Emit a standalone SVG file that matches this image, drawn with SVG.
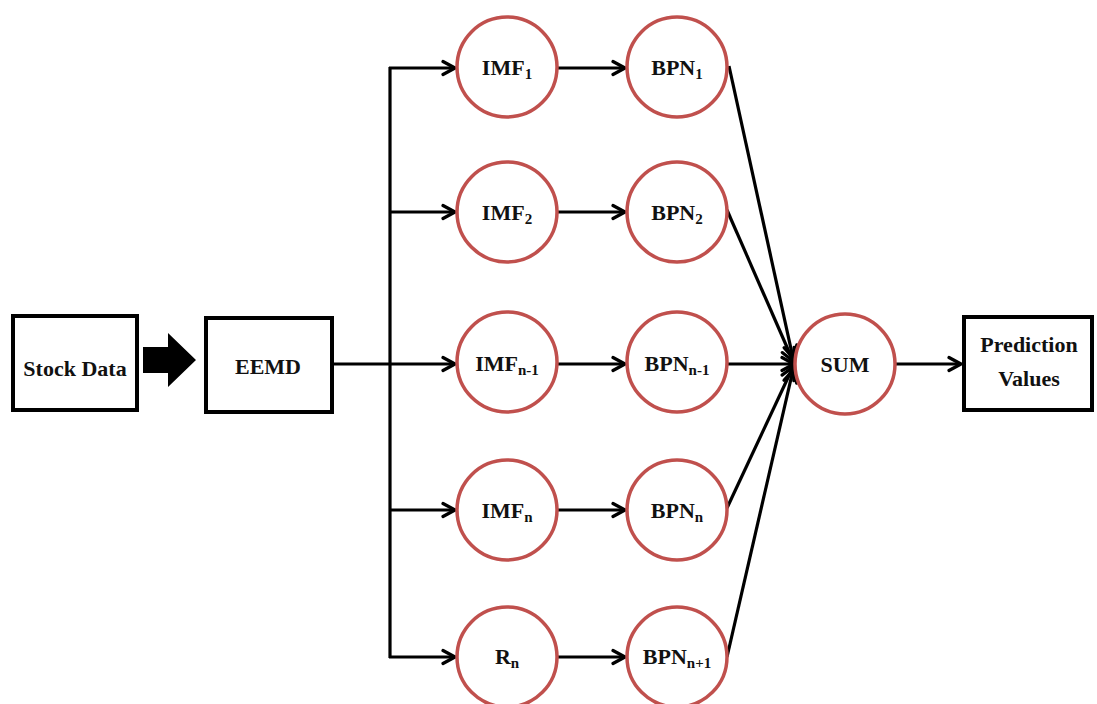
<svg xmlns="http://www.w3.org/2000/svg" width="1097" height="704" viewBox="0 0 1097 704">
  <style>
    .box { fill: #ffffff; stroke: #000000; stroke-width: 4; }
    .node { fill: #ffffff; stroke: #c0504d; stroke-width: 3.5; }
    .lbl { font-family: "Liberation Serif", "Times New Roman", serif; font-weight: bold; font-size: 22px; fill: #111111; text-anchor: middle; }
    .sub { font-size: 15px; }
    .wire { fill: none; stroke: #000000; stroke-width: 3.2; }
  </style>
  <defs>
    <marker id="chev" markerUnits="userSpaceOnUse" markerWidth="18" markerHeight="18" viewBox="0 0 18 18" refX="16" refY="9" orient="auto">
      <path d="M4,2.5 L16,9 L4,15.5" fill="none" stroke="#000000" stroke-width="3.2" stroke-linecap="round" stroke-linejoin="round"/>
    </marker>
  </defs>
  <rect width="1097" height="704" fill="#ffffff"/>

  <!-- connectors -->
  <g id="connectors">
    <!-- block arrow Stock Data -> EEMD -->
    <polygon points="143,347 168,347 168,333 196,360 168,387 168,373 143,373" fill="#000000"/>
    <!-- EEMD fan-out trunk -->
    <path class="wire" d="M332,364 L390,364"/>
    <path class="wire" d="M390,67 L390,658"/>
    <path class="wire" d="M389,68 L455,68" marker-end="url(#chev)"/>
    <path class="wire" d="M389,212 L455,212" marker-end="url(#chev)"/>
    <path class="wire" d="M389,364 L455,364" marker-end="url(#chev)"/>
    <path class="wire" d="M389,510 L455,510" marker-end="url(#chev)"/>
    <path class="wire" d="M389,657 L455,657" marker-end="url(#chev)"/>
    <!-- IMF -> BPN -->
    <path class="wire" d="M558,68 L625,68" marker-end="url(#chev)"/>
    <path class="wire" d="M558,212 L625,212" marker-end="url(#chev)"/>
    <path class="wire" d="M558,364 L625,364" marker-end="url(#chev)"/>
    <path class="wire" d="M558,510 L625,510" marker-end="url(#chev)"/>
    <path class="wire" d="M558,657 L625,657" marker-end="url(#chev)"/>
    <!-- BPN -> SUM -->
    <path class="wire" d="M729,66 L793,358" marker-end="url(#chev)"/>
    <path class="wire" d="M727,210 L793,361" marker-end="url(#chev)"/>
    <path class="wire" d="M728,364 L794,364" marker-end="url(#chev)"/>
    <path class="wire" d="M727,508 L793,367" marker-end="url(#chev)"/>
    <path class="wire" d="M727,657 L793,370" marker-end="url(#chev)"/>
    <!-- SUM -> Prediction -->
    <path class="wire" d="M895,364 L961,364" marker-end="url(#chev)"/>
  </g>

  <g id="stock-data">
    <rect class="box" x="13" y="316" width="124" height="94"/>
    <text class="lbl" x="75" y="376">Stock Data</text>
  </g>
  <g id="eemd">
    <rect class="box" x="206" y="318" width="126" height="94"/>
    <text class="lbl" x="268" y="374">EEMD</text>
  </g>

  <g id="imf1">
    <circle class="node" cx="507" cy="67" r="50"/>
    <text class="lbl" x="507" y="75">IMF<tspan class="sub" dy="4">1</tspan></text>
  </g>
  <g id="imf2">
    <circle class="node" cx="507" cy="212" r="50"/>
    <text class="lbl" x="507" y="220">IMF<tspan class="sub" dy="4">2</tspan></text>
  </g>
  <g id="imf-n-1">
    <circle class="node" cx="507" cy="362" r="50"/>
    <text class="lbl" x="507" y="371">IMF<tspan class="sub" dy="4">n-1</tspan></text>
  </g>
  <g id="imf-n">
    <circle class="node" cx="507" cy="510" r="50"/>
    <text class="lbl" x="507" y="518">IMF<tspan class="sub" dy="4">n</tspan></text>
  </g>
  <g id="rn">
    <circle class="node" cx="507" cy="657" r="50"/>
    <text class="lbl" x="507" y="664">R<tspan class="sub" dy="4">n</tspan></text>
  </g>

  <g id="bpn1">
    <circle class="node" cx="677" cy="67" r="50"/>
    <text class="lbl" x="677" y="75">BPN<tspan class="sub" dy="4">1</tspan></text>
  </g>
  <g id="bpn2">
    <circle class="node" cx="677" cy="212" r="50"/>
    <text class="lbl" x="677" y="220">BPN<tspan class="sub" dy="4">2</tspan></text>
  </g>
  <g id="bpn-n-1">
    <circle class="node" cx="677" cy="362" r="50"/>
    <text class="lbl" x="677" y="371">BPN<tspan class="sub" dy="4">n-1</tspan></text>
  </g>
  <g id="bpn-n">
    <circle class="node" cx="677" cy="510" r="50"/>
    <text class="lbl" x="677" y="518">BPN<tspan class="sub" dy="4">n</tspan></text>
  </g>
  <g id="bpn-n+1">
    <circle class="node" cx="677" cy="657" r="50"/>
    <text class="lbl" x="677" y="664">BPN<tspan class="sub" dy="4">n+1</tspan></text>
  </g>

  <g id="sum">
    <circle class="node" cx="845" cy="364" r="50"/>
    <text class="lbl" x="845" y="372">SUM</text>
  </g>
  <g id="prediction">
    <rect class="box" x="964" y="317" width="128" height="93"/>
    <text class="lbl" x="1029" y="352">Prediction</text>
    <text class="lbl" x="1029" y="386">Values</text>
  </g>
</svg>
